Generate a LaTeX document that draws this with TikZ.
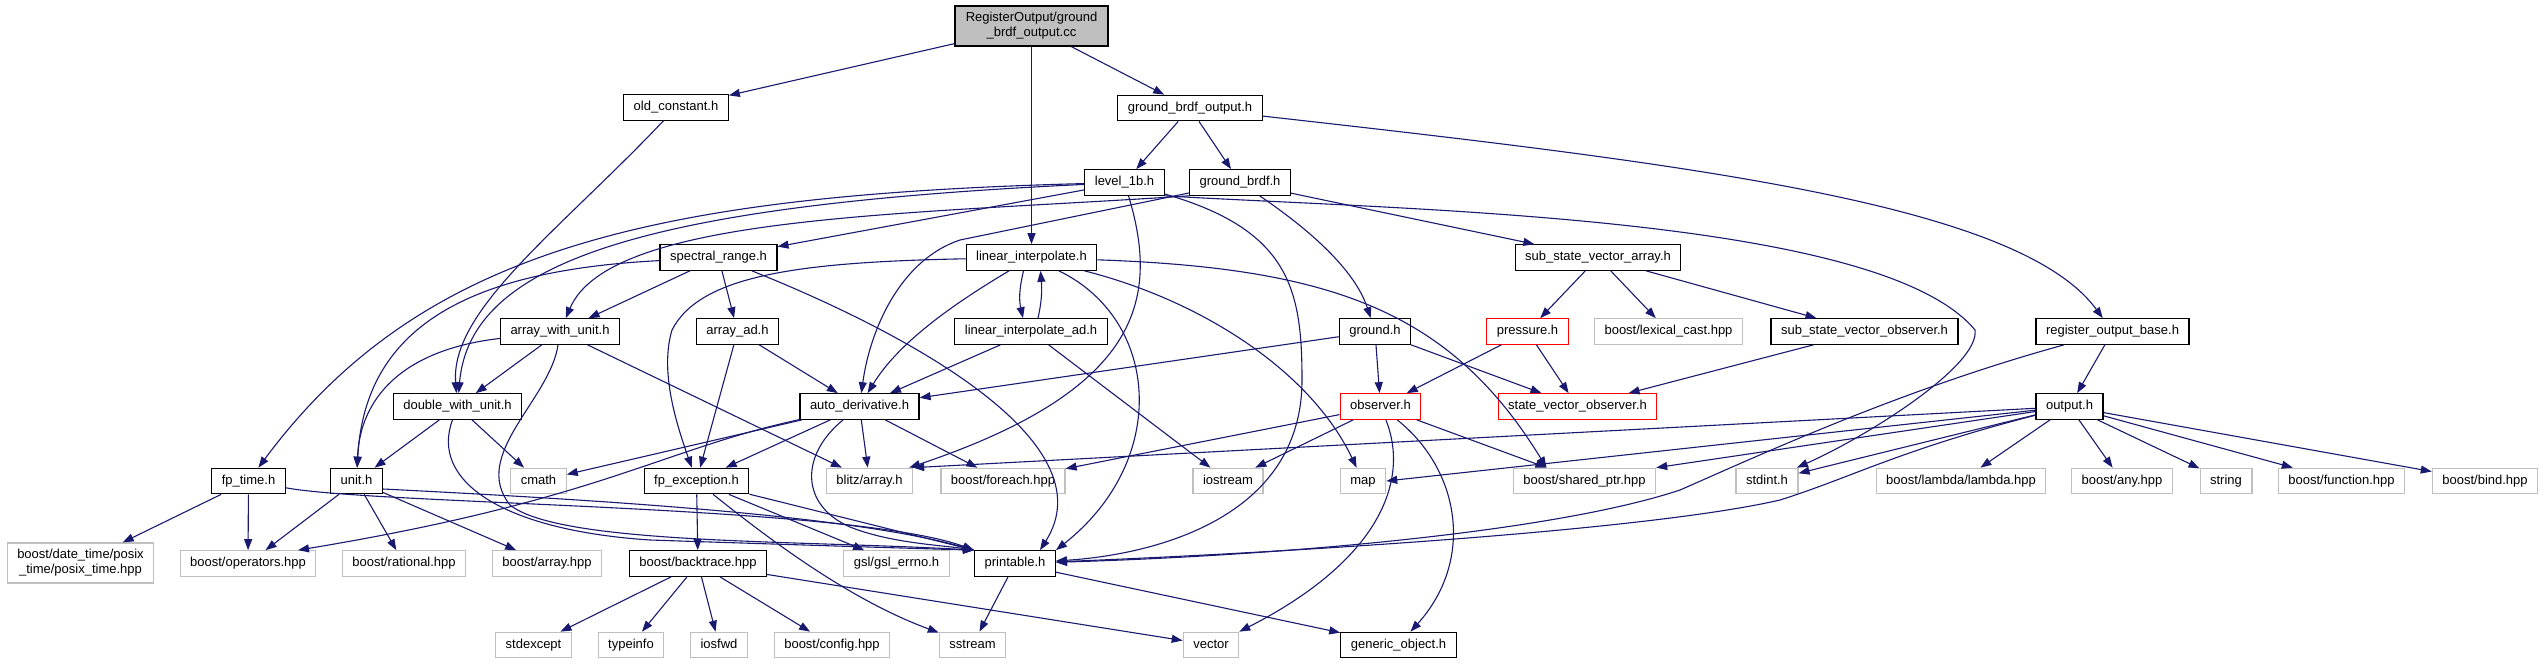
\documentclass[tikz,border=0pt]{standalone}
\usepackage{fontspec}
\setmainfont{Liberation Sans}
\usetikzlibrary{arrows.meta}
\definecolor{edgeblue}{HTML}{191970}
\definecolor{sysgray}{HTML}{BFBFBF}
\definecolor{rootgray}{HTML}{BFBFBF}
\definecolor{badred}{HTML}{FF0000}
\newcommand{\doxyfont}{\fontsize{13}{15}\selectfont}
\tikzset{
  hdrbase/.style={draw=black, line width=1.2pt, fill=white, font=\doxyfont, inner xsep=10pt, inner ysep=0pt},
  hdr/.style={hdrbase, minimum height=25.5pt, text height=9.6pt, text depth=2.8pt},
  syshdr/.style={hdr, draw=sysgray},
  badhdr/.style={hdr, draw=badred},
  inc/.style={draw=edgeblue, line width=1.1pt, -{Triangle[length=11pt,width=8pt]}},
}
\begin{document}
\begin{tikzpicture}[x=1pt, y=-1pt]
        \fill[white] (0,0) rectangle (2543,664);
        \useasboundingbox (0,0) rectangle (2543,664);

        % Source file
        \node[hdrbase, fill=rootgray, align=center, minimum height=40pt, minimum width=153pt] (root) at (1031.5,26) {RegisterOutput/ground\\\_brdf\_output.cc};

        % Row 1
        \node[hdr] (oldconst) at (676,107.5) {old\_constant.h};
        \node[hdr] (gbo) at (1190,108) {ground\_brdf\_output.h};

        % Row 2
        \node[hdr] (level) at (1124.5,182.5) {level\_1b.h};
        \node[hdr] (gbrdf) at (1240,182.5) {ground\_brdf.h};

        % Row 3
        \node[hdr] (spec) at (718.5,257.5) {spectral\_range.h};
        \node[hdr] (linint) at (1031.5,257.5) {linear\_interpolate.h};
        \node[hdr] (ssva) at (1598,257.5) {sub\_state\_vector\_array.h};

        % Row 4
        \node[hdr] (awu) at (560,331.5) {array\_with\_unit.h};
        \node[hdr] (arrad) at (737.5,331.5) {array\_ad.h};
        \node[hdr] (linintad) at (1031,331.5) {linear\_interpolate\_ad.h};
        \node[hdr] (ground) at (1375,331.5) {ground.h};
        \node[badhdr] (pressure) at (1527.5,331.5) {pressure.h};
        \node[syshdr] (lexcast) at (1668.5,331.5) {boost/lexical\_cast.hpp};
        \node[hdr] (ssvo) at (1864.5,331.5) {sub\_state\_vector\_observer.h};
        \node[hdr] (rob) at (2112.5,331.5) {register\_output\_base.h};

        % Row 5
        \node[hdr] (dwu) at (457.5,406.5) {double\_with\_unit.h};
        \node[hdr] (autod) at (859.5,406.5) {auto\_derivative.h};
        \node[badhdr] (observer) at (1380.5,406.5) {observer.h};
        \node[badhdr] (svo) at (1577.5,406.5) {state\_vector\_observer.h};
        \node[hdr] (outp) at (2069.5,406.5) {output.h};

        % Row 6
        \node[hdr] (fptime) at (248.5,481) {fp\_time.h};
        \node[hdr] (unit) at (356.5,481) {unit.h};
        \node[syshdr] (cmath) at (538.5,481) {cmath};
        \node[hdr] (fpexc) at (696.5,481) {fp\_exception.h};
        \node[syshdr] (blitz) at (869.5,481) {blitz/array.h};
        \node[syshdr] (foreach) at (1003,481) {boost/foreach.hpp};
        \node[syshdr] (iostream) at (1228,481) {iostream};
        \node[syshdr] (map) at (1363,481) {map};
        \node[syshdr] (sharedptr) at (1584.5,481) {boost/shared\_ptr.hpp};
        \node[syshdr] (stdint) at (1767,481) {stdint.h};
        \node[syshdr] (lambda) at (1961,481) {boost/lambda/lambda.hpp};
        \node[syshdr] (any) at (2122,481) {boost/any.hpp};
        \node[syshdr] (string) at (2226,481) {string};
        \node[syshdr] (function) at (2341.5,481) {boost/function.hpp};
        \node[syshdr] (bind) at (2485,481) {boost/bind.hpp};

        % Row 7
        \node[hdrbase, draw=sysgray, align=center, minimum height=40pt] (datetime) at (80.5,563) {boost/date\_time/posix\\\_time/posix\_time.hpp};
        \node[syshdr] (operators) at (248,563.5) {boost/operators.hpp};
        \node[syshdr] (rational) at (404,563.5) {boost/rational.hpp};
        \node[syshdr] (barray) at (547,563.5) {boost/array.hpp};
        \node[hdr] (backtrace) at (698,563.5) {boost/backtrace.hpp};
        \node[syshdr] (gsl) at (896.5,563.5) {gsl/gsl\_errno.h};
        \node[hdr] (printable) at (1015,563.5) {printable.h};

        % Row 8
        \node[syshdr] (stdexcept) at (533.5,645) {stdexcept};
        \node[syshdr] (typeinfo) at (631,645) {typeinfo};
        \node[syshdr] (iosfwd) at (719,645) {iosfwd};
        \node[syshdr] (config) at (832,645) {boost/config.hpp};
        \node[syshdr] (sstream) at (972.5,645) {sstream};
        \node[syshdr] (vector) at (1211,645) {vector};
        \node[hdr] (generic) at (1398.5,645) {generic\_object.h};

        % Includes of the source file
        \draw[inc] (root) -- (oldconst);
        \draw[inc] (root) -- (linint);
        \draw[inc] (root) -- (gbo);

        % ground_brdf_output.h
        \draw[inc] (gbo) -- (level);
        \draw[inc] (gbo) -- (gbrdf);
        \draw[inc] (gbo) .. controls (1700,165) and (2020,205) .. (rob);
        \draw[inc] (oldconst) .. controls (560,230) and (450,310) .. (dwu);

        % level_1b.h
        \draw[inc] (level) -- (spec);
        \draw[inc] (level) .. controls (650,195) and (420,250) .. (fptime);
        \draw[inc] (level) .. controls (650,205) and (470,260) .. (dwu);
        \draw[inc] (level.south east) .. controls (1400,210) and (1880,215) .. (1975,330) .. controls (1980,365) and (1870,435) .. (stdint);
        \draw[inc] (level) .. controls (1160,300) and (1140,390) .. (blitz);
        \draw[inc] (level) .. controls (1290,230) and (1302,290) .. (1302,380) .. controls (1302,520) and (1150,555) .. (printable);

        % ground_brdf.h
        \draw[inc] (gbrdf.south west) .. controls (900,215) and (610,215) .. (awu);
        \draw[inc] (gbrdf) .. controls (1310,230) and (1355,270) .. (ground);
        \draw[inc] (gbrdf) -- (ssva);
        \draw[inc] (gbrdf) -- (960,240) .. controls (900,260) and (870,330) .. (autod);

        % linear_interpolate.h
        \draw[inc] (linint) .. controls (960,300) and (900,340) .. (autod);
        \draw[inc] ([xshift=-8pt]linint.south) .. controls (1019,290) and (1019,300) .. ([xshift=-8pt]linintad.north);
        \draw[inc] ([xshift=7pt]linintad.north) .. controls (1042,300) and (1042,290) .. ([xshift=9pt]linint.south);
        \draw[inc] (linint) .. controls (800,262) and (700,275) .. (672,330) .. controls (660,370) and (675,420) .. (fpexc);
        \draw[inc] (linint) .. controls (1200,300) and (1310,370) .. (map);
        \draw[inc] (linint) .. controls (1330,268) and (1450,310) .. ([xshift=-38pt]sharedptr.north);
        \draw[inc] (linint) .. controls (1160,320) and (1170,460) .. (printable.north east);
        \draw[inc] (linintad) -- (autod);
        \draw[inc] (linintad) -- (iostream);

        % spectral_range.h and the unit headers
        \draw[inc] (spec) -- (awu);
        \draw[inc] (spec) -- (arrad);
        \draw[inc] (spec) .. controls (480,270) and (365,320) .. (unit);
        \draw[inc] (spec) .. controls (900,330) and (1110,440) .. ([xshift=25pt]printable.north);
        \draw[inc] (awu) -- (dwu);
        \draw[inc] (awu) .. controls (400,350) and (360,400) .. (unit);
        \draw[inc] (awu) -- (blitz);
        \draw[inc] (awu) .. controls (550,400) and (470,455) .. (510,505) .. controls (560,545) and (800,540) .. (printable.north west);
        \draw[inc] (arrad) -- (fpexc);
        \draw[inc] (arrad) -- (autod);
        \draw[inc] (dwu) -- (unit);
        \draw[inc] (dwu) -- (cmath);
        \draw[inc] (dwu) .. controls (430,480) and (500,530) .. (650,540) .. controls (800,545) and (900,548) .. (printable.north west);
        \draw[inc] (unit) -- (operators);
        \draw[inc] (unit) -- (rational);
        \draw[inc] (unit) -- (barray);
        \draw[inc] ([yshift=-8pt]unit.east) .. controls (600,500) and (850,515) .. (printable.north west);
        \draw[inc] (fptime) -- (datetime);
        \draw[inc] (fptime) -- (operators);
        \draw[inc] (fptime) .. controls (380,505) and (850,505) .. (printable.north west);

        % auto_derivative.h and fp_exception.h
        \draw[inc] (autod) -- (cmath);
        \draw[inc] (autod) .. controls (660,450) and (600,500) .. ([xshift=50pt]operators.north);
        \draw[inc] (autod) -- (fpexc);
        \draw[inc] (autod) -- (blitz);
        \draw[inc] (autod) -- (foreach);
        \draw[inc] (autod) .. controls (800,455) and (800,505) .. (850,527) .. controls (890,543) and (940,545) .. (printable.north west);
        \draw[inc] (fpexc) -- (backtrace);
        \draw[inc] (fpexc) -- (gsl);
        \draw[inc] (fpexc) .. controls (770,540) and (850,600) .. (sstream);
        \draw[inc] (fpexc) -- (printable.north west);
        \draw[inc] (backtrace) -- (stdexcept);
        \draw[inc] (backtrace) -- (typeinfo);
        \draw[inc] (backtrace) -- (iosfwd);
        \draw[inc] (backtrace) -- (config);
        \draw[inc] (backtrace) -- (vector);
        \draw[inc] (printable) -- (sstream);
        \draw[inc] (printable) -- (generic);

        % State vector side
        \draw[inc] (ground) -- (autod);
        \draw[inc] (ground) -- (observer);
        \draw[inc] (ground) -- (svo);
        \draw[inc] (ssva) -- (pressure);
        \draw[inc] (ssva) -- (lexcast);
        \draw[inc] (ssva) -- (ssvo);
        \draw[inc] (pressure) -- (observer);
        \draw[inc] (pressure) -- (svo);
        \draw[inc] (ssvo) -- (svo);
        \draw[inc] (observer) -- (foreach);
        \draw[inc] (observer) -- (iostream);
        \draw[inc] (observer) -- ([xshift=-38pt]sharedptr.north);
        \draw[inc] (observer) .. controls (1410,480) and (1380,560) .. (vector.north east);
        \draw[inc] (observer) .. controls (1460,470) and (1475,560) .. (generic);

        % Output side
        \draw[inc] (rob) -- (outp);
        \draw[inc] (rob) .. controls (1900,390) and (1760,455) .. (1680,490) .. controls (1560,530) and (1300,555) .. (printable);
        \draw[inc] (outp) -- (blitz.north east);
        \draw[inc] (outp) -- (map.east);
        \draw[inc] (outp) -- (sharedptr.north east);
        \draw[inc] (outp) -- (stdint);
        \draw[inc] (outp) .. controls (1900,450) and (1850,478) .. (1780,500) .. controls (1650,530) and (1300,552) .. (printable);
        \draw[inc] (outp) -- (lambda);
        \draw[inc] (outp) -- (any);
        \draw[inc] (outp) -- (string);
        \draw[inc] (outp) -- (function);
        \draw[inc] (outp) -- (bind);
\end{tikzpicture}
\end{document}
